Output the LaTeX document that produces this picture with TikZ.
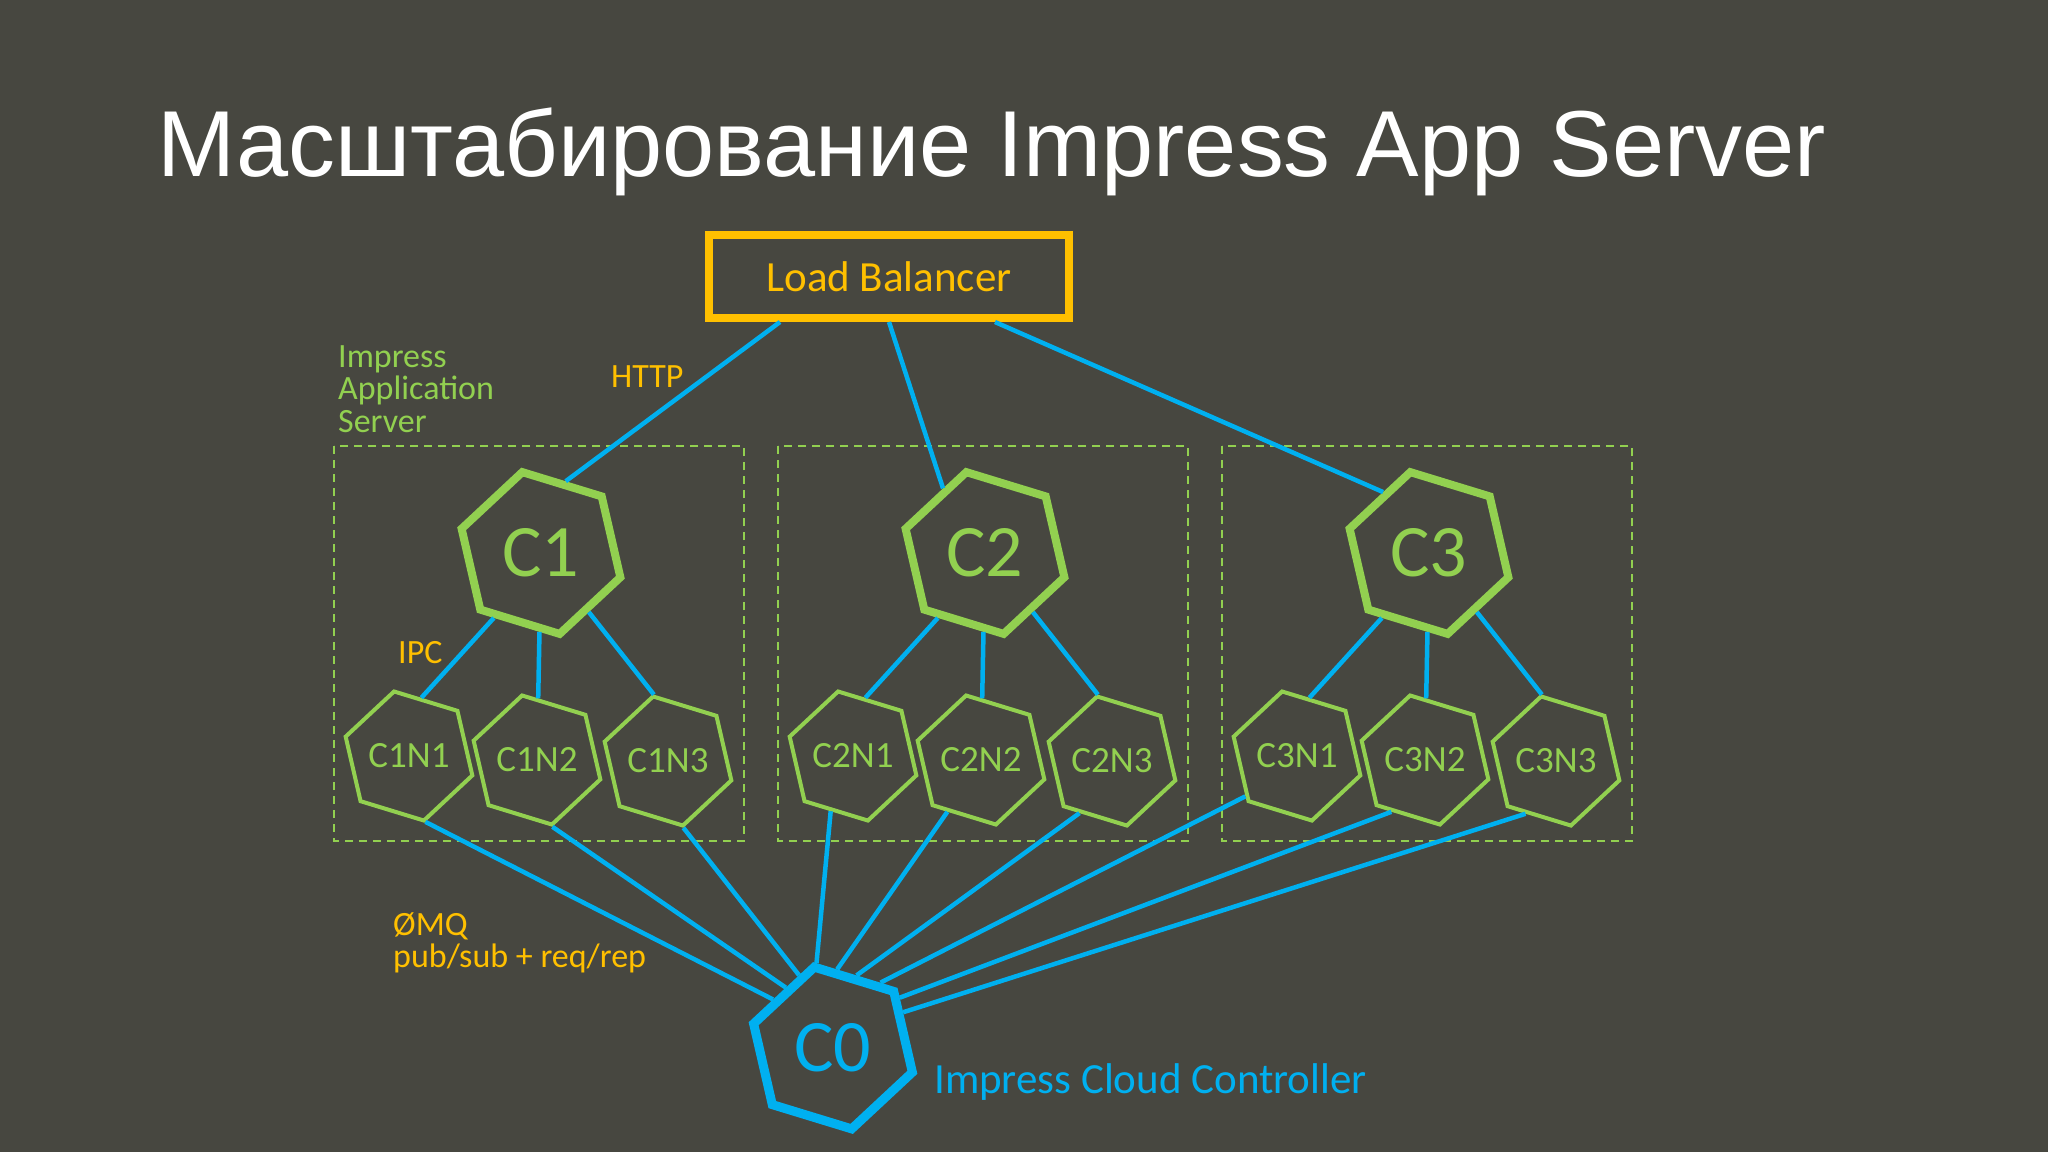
\documentclass[tikz,border=0pt]{standalone}
\usepackage{fontspec}
\setmainfont{Carlito}
\newfontfamily\titlefont{Liberation Sans}
\usetikzlibrary{shapes.geometric}

\definecolor{slidebg}{RGB}{71,71,64}
\definecolor{lbyellow}{RGB}{255,192,0}
\definecolor{hexgreen}{RGB}{146,208,80}
\definecolor{linkblue}{RGB}{0,176,240}

\tikzset{
  bighex/.style={regular polygon, regular polygon sides=6, shape border rotate=-17,
    draw=hexgreen, line width=8pt, minimum size=166pt, inner sep=0pt,
    text=hexgreen, font=\fontsize{74}{80}\selectfont},
  smallhex/.style={regular polygon, regular polygon sides=6, shape border rotate=-17,
    draw=hexgreen, line width=4pt, minimum size=114pt, inner sep=0pt,
    text=hexgreen, font=\fontsize{37}{42}\selectfont},
  ctrlhex/.style={bighex, draw=linkblue, text=linkblue, line width=9pt},
  lbbox/.style={draw=lbyellow, line width=8pt, minimum width=360pt, minimum height=83pt,
    text=lbyellow, font=\fontsize{43}{48}\selectfont},
  link/.style={draw=linkblue, line width=4.5pt},
  srvframe/.style={draw=hexgreen, line width=2pt, dash pattern=on 8pt off 6pt},
  note/.style={inner sep=0pt, anchor=base west, font=\fontsize{34}{32.5}\selectfont},
}

\begin{document}
\begin{tikzpicture}[x=1pt, y=-1pt]
    \useasboundingbox (0,0) rectangle (2048,1152);
    \fill[slidebg] (0,0) rectangle (2048,1152);

    \node[anchor=base west, inner sep=0pt, text=white,
      font=\titlefont\fontsize{93.7}{100}\selectfont] (title) at (157,176)
      {Масштабирование Impress App Server};

    \node[lbbox] (lb) at (889,276.5) {Load Balancer};

    % three app servers, each with three nodes
    \foreach \i/\x in {1/541,2/985,3/1429} {
        \draw[srvframe] (\x-207,446) rectangle (\x+203,841);
        \node[bighex] (c\i) at (\x,553) {C\i};
        \node[smallhex] (n\i1) at (\x-132,756) {C\i N1};
        \node[smallhex] (n\i2) at (\x-4,760) {C\i N2};
        \node[smallhex] (n\i3) at (\x+127,761) {C\i N3};
        \draw[link] (c\i.234) -- (n\i1.78);
        \draw[link] (c\i) -- (n\i2);
        \draw[link] (c\i.309) -- (n\i3.102);
    }

    \draw[link] ([xshift=-109pt]lb.south) -- (c1.71);
    \draw[link] (lb.south) -- (c2.123);
    \draw[link] ([xshift=106pt]lb.south) -- (c3.127);

    \node[ctrlhex] (c0) at (833,1048) {C0};
    \foreach \n/\a/\b in {11/284/141, 12/283/128, 13/283/115, 21/248/101, 22/237/87,
                          23/238/72, 31/218/54, 32/237/37, 33/240/27}
        \draw[link] (n\n.\a) -- (c0.\b);

    % labels
    \node[note, text=lbyellow] (http) at (611,387) {HTTP};
    \node[note, text=lbyellow] (ipc) at (398,663) {IPC};
    \node[note, text=hexgreen, anchor=north west, align=left] (iaslabel) at (338,345)
      {Impress\\Application\\Server};
    \node[note, text=lbyellow, anchor=north west, align=left] (zmq) at (393,912)
      {ØMQ\\pub/sub + req/rep};
    \node[note, text=linkblue, font=\fontsize{43}{48}\selectfont] (ctrllabel) at (934,1093)
      {Impress Cloud Controller};
\end{tikzpicture}
\end{document}
